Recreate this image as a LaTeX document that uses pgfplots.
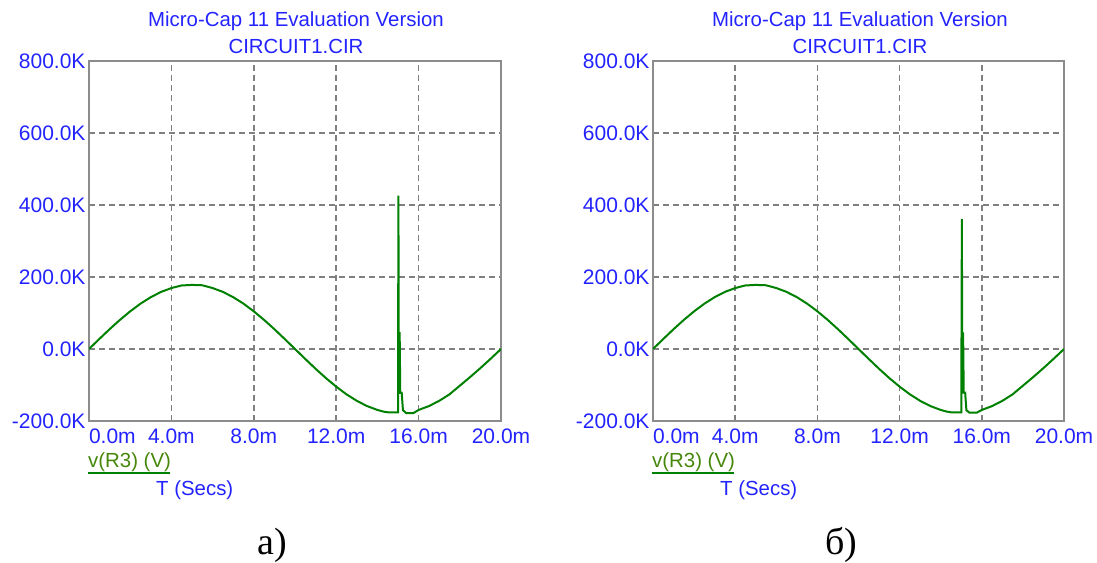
\documentclass[border=0pt]{standalone}
\usepackage{pgfplots}
\pgfplotsset{compat=1.18}
\usepackage{fontspec}
\setmainfont{Liberation Sans}
\newfontfamily\capserif{Liberation Serif}
\definecolor{mcblue}{RGB}{35,35,255}
\definecolor{mcgreen}{RGB}{0,128,0}
\definecolor{lblgreen}{RGB}{70,135,10}
\definecolor{gridgray}{RGB}{128,128,128}
\definecolor{framegray}{RGB}{140,140,140}

\pgfplotstableread{
t v
0 0
0.5 27.8
1.0 55.0
1.5 80.8
2.0 104.6
2.5 125.9
3.0 144.0
3.5 158.6
4.0 169.3
4.5 176.5
5.0 178
5.5 177
6.0 169.3
6.5 158.6
7.0 144.0
7.5 125.9
8.0 104.6
8.5 80.8
9.0 55.0
9.5 27.8
10.0 0
10.5 -27.8
11.0 -55.0
11.5 -80.8
12.0 -104.6
12.5 -125.9
13.0 -144.0
13.5 -158.6
14.0 -169.3
14.3 -174
14.5 -175.8
15.0 -176
15.02 426
15.04 -120
15.08 47
15.11 -122
15.18 -122
15.24 -170
15.4 -178
15.75 -178
16.0 -169.3
16.5 -158.6
17.0 -144.0
17.5 -125.9
18.0 -102
18.5 -78
19.0 -53
19.5 -27
20.0 0
}\dataA

\pgfplotstableread{
t v
0 0
0.5 27.8
1.0 55.0
1.5 80.8
2.0 104.6
2.5 125.9
3.0 144.0
3.5 158.6
4.0 169.3
4.5 176.5
5.0 178
5.5 177
6.0 169.3
6.5 158.6
7.0 144.0
7.5 125.9
8.0 104.6
8.5 80.8
9.0 55.0
9.5 27.8
10.0 0
10.5 -27.8
11.0 -55.0
11.5 -80.8
12.0 -104.6
12.5 -125.9
13.0 -144.0
13.5 -158.6
14.0 -169.3
14.3 -174
14.5 -175.8
15.0 -176
15.03 361
15.05 -120
15.09 46
15.12 -121
15.19 -121
15.25 -170
15.4 -177
15.75 -177
16.0 -169.3
16.5 -158.6
17.0 -144.0
17.5 -125.9
18.0 -102
18.5 -78
19.0 -53
19.5 -27
20.0 0
}\dataB

\pgfplotsset{mcstyle/.style={
  anchor=south west, scale only axis,
  width=412pt, height=360pt,
  xmin=0, xmax=20, ymin=-200, ymax=800,
  xtick={0,4,8,12,16,20},
  xticklabels={{\makebox[0pt][l]{0.0m}},4.0m,8.0m,12.0m,16.0m,20.0m},
  ytick={-200,0,200,400,600,800},
  yticklabels={-200.0K,0.0K,200.0K,400.0K,600.0K,800.0K},
  grid=major,
  major grid style={gridgray, line width=1.6pt, dash pattern=on 6pt off 4pt},
  axis line style={framegray, line width=2pt},
  major tick length=0pt,
  tick label style={font=\fontsize{21}{23}\selectfont, text=mcblue},
  xticklabel style={anchor=north, yshift=-4pt},
  yticklabel style={anchor=east, xshift=0pt},
}}

\begin{document}
\begin{tikzpicture}[x=1pt,y=1pt]
\useasboundingbox (0pt,0pt) rectangle (1097pt,562pt);

\begin{axis}[mcstyle, at={(89pt,141pt)}]
\addplot[mcgreen, line width=2pt, line join=miter] table[x=t,y=v] {\dataA};
\end{axis}

\begin{axis}[mcstyle, at={(653pt,141pt)}, width=411pt]
\addplot[mcgreen, line width=2pt, line join=miter] table[x=t,y=v] {\dataB};
\end{axis}

\foreach \dx in {0, 564} {
  \begin{scope}[xshift=\dx pt]
  \node[font=\fontsize{20.4}{22}\selectfont, text=mcblue] at (296pt,541pt) {Micro-Cap 11 Evaluation Version};
  \node[font=\fontsize{20.4}{22}\selectfont, text=mcblue] at (296pt,516pt) {CIRCUIT1.CIR};
  \node[font=\fontsize{20.4}{22}\selectfont, text=lblgreen, anchor=base west, inner sep=0pt] at (88pt,94pt) {v(R3) (V)};
  \draw[mcgreen, line width=2pt] (88pt,89pt) -- (170pt,89pt);
  \node[font=\fontsize{20.4}{22}\selectfont, text=mcblue, anchor=base west, inner sep=0pt] at (156pt,66pt) {T (Secs)};
  \end{scope}
}
\node[font=\capserif\fontsize{38}{40}\selectfont, anchor=base] at (272pt,8pt) {а)};
\node[font=\capserif\fontsize{38}{40}\selectfont, anchor=base] at (841pt,8pt) {б)};
\end{tikzpicture}
\end{document}
